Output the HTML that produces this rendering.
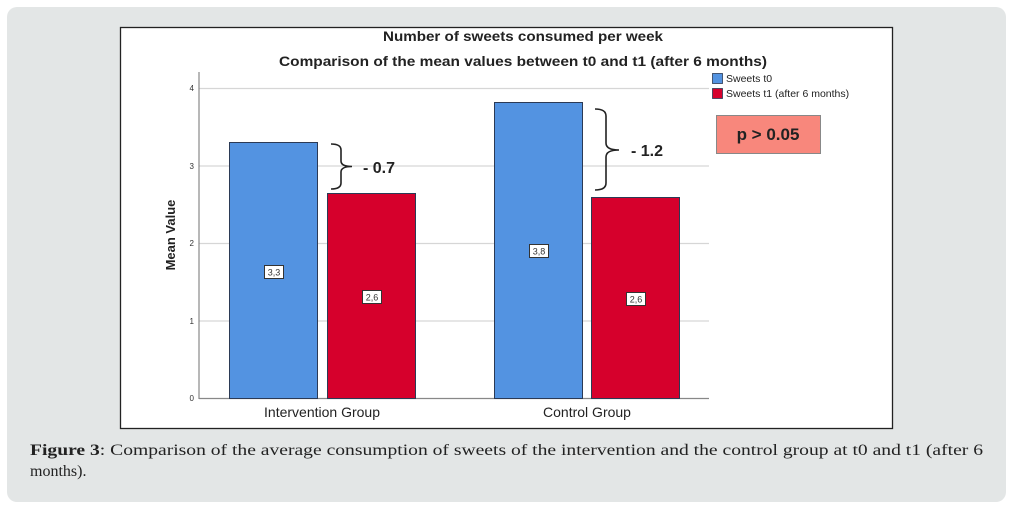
<!DOCTYPE html>
<html><head><meta charset="utf-8"><style>
html,body{margin:0;padding:0;background:#fff;}
svg{display:block;}
</style></head><body>
<svg width="1013" height="508" viewBox="0 0 1013 508" xmlns="http://www.w3.org/2000/svg">
<rect x="7" y="7" width="999" height="495" rx="10" ry="10" fill="#e3e6e6"/>
<rect x="120.5" y="27.5" width="772" height="401" fill="#fff" stroke="#222" stroke-width="1.3"/>
<g font-family="Liberation Sans, DejaVu Sans, sans-serif" fill="#222">
<text x="523" y="41" font-size="13.5" font-weight="bold" text-anchor="middle" textLength="280" lengthAdjust="spacingAndGlyphs">Number of sweets consumed per week</text>
<text x="523" y="66" font-size="13.5" font-weight="bold" text-anchor="middle" textLength="488" lengthAdjust="spacingAndGlyphs">Comparison of the mean values between t0 and t1 (after 6 months)</text>
</g>
<!-- gridlines -->
<g stroke="#d6d6d6" stroke-width="1.2">
<line x1="199" y1="88.5" x2="709" y2="88.5"/>
<line x1="199" y1="166" x2="709" y2="166"/>
<line x1="199" y1="243.5" x2="709" y2="243.5"/>
<line x1="199" y1="321" x2="709" y2="321"/>
</g>
<line x1="199" y1="398.5" x2="709" y2="398.5" stroke="#888" stroke-width="1.2"/>
<line x1="199" y1="72" x2="199" y2="399" stroke="#888" stroke-width="1.2"/>
<g font-family="Liberation Sans, DejaVu Sans, sans-serif" font-size="8" fill="#333" text-anchor="end">
<text x="194" y="91">4</text>
<text x="194" y="169">3</text>
<text x="194" y="246">2</text>
<text x="194" y="324">1</text>
<text x="194" y="401">0</text>
</g>
<text transform="translate(175,235) rotate(-90)" font-family="Liberation Sans, DejaVu Sans, sans-serif" font-size="13" font-weight="bold" fill="#222" text-anchor="middle">Mean Value</text>
<!-- bars -->
<g stroke="#2b3a55" stroke-width="1">
<rect x="229.5" y="142.5" width="88" height="256" fill="#5393e1"/>
<rect x="327.5" y="193.5" width="88" height="205" fill="#d6002c"/>
<rect x="494.5" y="102.5" width="88" height="296" fill="#5393e1"/>
<rect x="591.5" y="197.5" width="88" height="201" fill="#d6002c"/>
</g>
<!-- value labels -->
<g font-family="Liberation Sans, DejaVu Sans, sans-serif" font-size="9" fill="#333" text-anchor="middle">
<rect x="264.5" y="265.5" width="19" height="13" fill="#fff" stroke="#333" stroke-width="1"/>
<text x="274" y="275.5">3,3</text>
<rect x="362.5" y="290.5" width="19" height="13" fill="#fff" stroke="#333" stroke-width="1"/>
<text x="372" y="300.5">2,6</text>
<rect x="529.5" y="244.5" width="19" height="13" fill="#fff" stroke="#333" stroke-width="1"/>
<text x="539" y="254.5">3,8</text>
<rect x="626.5" y="292.5" width="19" height="13" fill="#fff" stroke="#333" stroke-width="1"/>
<text x="636" y="302.5">2,6</text>
</g>
<!-- braces -->
<g fill="none" stroke="#222" stroke-width="1.6">
<path d="M331,144 Q341,144 341,150 L341,161 Q341,166.5 352,166.5 Q341,166.5 341,172 L341,183 Q341,189 331,189"/>
<path d="M595,109 Q606,109 606,116 L606,143 Q606,150 619,150 Q606,150 606,157 L606,183 Q606,190 595,190"/>
</g>
<g font-family="Liberation Sans, DejaVu Sans, sans-serif" font-size="16" font-weight="bold" fill="#222">
<text x="363" y="173">- 0.7</text>
<text x="631" y="156">- 1.2</text>
</g>
<!-- legend -->
<rect x="712.5" y="73.5" width="10" height="10" fill="#5393e1" stroke="#2b3a55" stroke-width="0.8"/>
<rect x="712.5" y="88.5" width="10" height="10" fill="#d6002c" stroke="#2b3a55" stroke-width="0.8"/>
<g font-family="Liberation Sans, DejaVu Sans, sans-serif" font-size="10.5" fill="#222">
<text x="726" y="82">Sweets t0</text>
<text x="726" y="97">Sweets t1 (after 6 months)</text>
</g>
<rect x="716.5" y="115.5" width="104" height="38" fill="#f8877c" stroke="#888" stroke-width="1"/>
<text x="768" y="140" font-family="Liberation Sans, DejaVu Sans, sans-serif" font-size="17" font-weight="bold" fill="#222" text-anchor="middle">p &gt; 0.05</text>
<!-- x labels -->
<g font-family="Liberation Sans, DejaVu Sans, sans-serif" font-size="14" fill="#222" text-anchor="middle">
<text x="322" y="417">Intervention Group</text>
<text x="587" y="417">Control Group</text>
</g>
<!-- caption -->
<g font-family="Liberation Serif, DejaVu Serif, serif" font-size="16" fill="#222">
<text x="30" y="455" textLength="953" lengthAdjust="spacingAndGlyphs"><tspan font-weight="bold">Figure 3</tspan>: Comparison of the average consumption of sweets of the intervention and the control group at t0 and t1 (after 6</text>
<text x="30" y="476">months).</text>
</g>
</svg>
</body></html>
